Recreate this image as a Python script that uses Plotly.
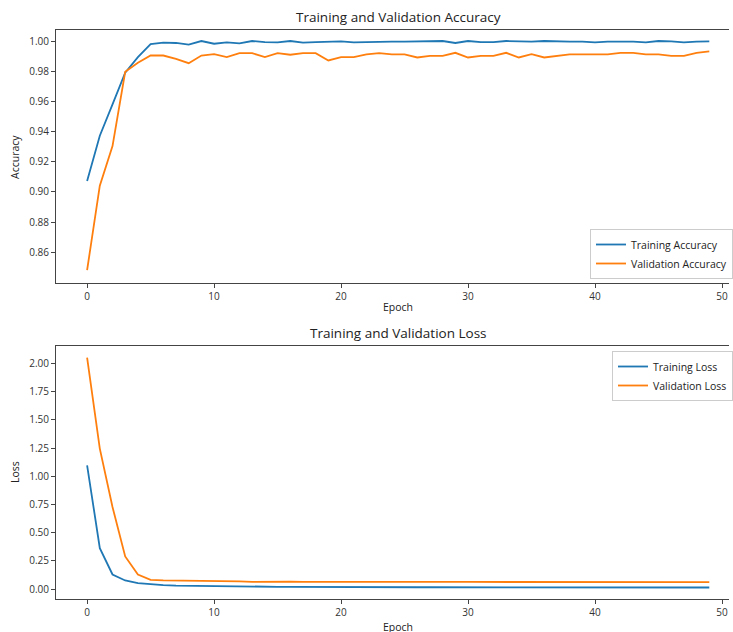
import plotly.graph_objects as go

epochs = list(range(50))

train_acc = [0.9073, 0.9373, 0.9580, 0.9790, 0.9893, 0.9980, 0.9989, 0.9987, 0.9976, 1.0000,
             0.9982, 0.9991, 0.9984, 1.0000, 0.9993, 0.9991, 1.0000, 0.9989, 0.9993, 0.9996,
             0.9998, 0.9991, 0.9993, 0.9998, 0.9996, 0.9996, 0.9996, 1.0000, 1.0000, 0.9987,
             1.0000, 0.9993, 0.9993, 1.0000, 0.9996, 0.9996, 1.0000, 0.9996, 0.9996, 0.9996,
             0.9991, 0.9996, 0.9996, 0.9996, 0.9991, 1.0000, 0.9998, 0.9991, 0.9996, 0.9998]

val_acc = [0.8482, 0.9042, 0.9304, 0.9796, 0.9856, 0.9904, 0.9904, 0.9882, 0.9853, 0.9904,
           0.9913, 0.9893, 0.9920, 0.9920, 0.9893, 0.9920, 0.9909, 0.9920, 0.9920, 0.9871,
           0.9893, 0.9893, 0.9911, 0.9920, 0.9911, 0.9911, 0.9891, 0.9902, 0.9902, 0.9922,
           0.9891, 0.9902, 0.9902, 0.9922, 0.9891, 0.9913, 0.9891, 0.9902, 0.9911, 0.9911,
           0.9911, 0.9911, 0.9922, 0.9922, 0.9911, 0.9911, 0.9902, 0.9902, 0.9922, 0.9931]

train_loss = [1.098, 0.364, 0.130, 0.077, 0.053, 0.042, 0.036, 0.032, 0.030, 0.027,
              0.026, 0.025, 0.024, 0.022, 0.022, 0.021, 0.021, 0.020, 0.020, 0.019,
              0.019, 0.019, 0.018, 0.018, 0.018, 0.017, 0.017, 0.017, 0.017, 0.017,
              0.016, 0.016, 0.016, 0.016, 0.016, 0.016, 0.016, 0.016, 0.016, 0.016,
              0.015, 0.015, 0.015, 0.015, 0.015, 0.015, 0.015, 0.015, 0.015, 0.015]

val_loss = [2.053, 1.246, 0.728, 0.290, 0.130, 0.083, 0.078, 0.077, 0.076, 0.073,
            0.071, 0.071, 0.069, 0.064, 0.066, 0.066, 0.066, 0.065, 0.066, 0.065,
            0.065, 0.065, 0.065, 0.064, 0.065, 0.065, 0.066, 0.067, 0.065, 0.065,
            0.064, 0.064, 0.064, 0.064, 0.064, 0.064, 0.064, 0.063, 0.063, 0.063,
            0.063, 0.063, 0.063, 0.063, 0.063, 0.063, 0.062, 0.062, 0.062, 0.062]

acc_ticks = [0.86, 0.88, 0.90, 0.92, 0.94, 0.96, 0.98, 1.00]
loss_ticks = [0.0, 0.25, 0.5, 0.75, 1.0, 1.25, 1.5, 1.75, 2.0]
epoch_ticks = [0, 10, 20, 30, 40, 50]

BLUE = "#1f77b4"
ORANGE = "#ff7f0e"
FONT = "Open Sans"
W, H = 733, 632

fig = go.Figure()
fig.add_trace(go.Scatter(x=epochs, y=train_acc, mode="lines", name="Training Accuracy",
                         line=dict(color=BLUE, width=1.8), xaxis="x", yaxis="y", legend="legend"))
fig.add_trace(go.Scatter(x=epochs, y=val_acc, mode="lines", name="Validation Accuracy",
                         line=dict(color=ORANGE, width=1.8), xaxis="x", yaxis="y", legend="legend"))
fig.add_trace(go.Scatter(x=epochs, y=train_loss, mode="lines", name="Training Loss",
                         line=dict(color=BLUE, width=1.8), xaxis="x2", yaxis="y2", legend="legend2"))
fig.add_trace(go.Scatter(x=epochs, y=val_loss, mode="lines", name="Validation Loss",
                         line=dict(color=ORANGE, width=1.8), xaxis="x2", yaxis="y2", legend="legend2"))

xright = 0.995
xdom = [56 / W, xright]
xr = [-2.45, (xright * W - 87) / 12.7]
axcommon = dict(showline=True, linecolor="#444", linewidth=1, ticks="outside", ticklen=4,
                tickcolor="#444", tickfont=dict(family=FONT, size=10, color="#333"),
                showgrid=False, zeroline=False, automargin=False, showspikes=False)

legcommon = dict(bgcolor="rgba(255,255,255,0.85)", bordercolor="#ccc", borderwidth=1,
                 font=dict(family=FONT, size=10.5, color="#222"), itemwidth=30,
                 tracegroupgap=0)

fig.update_layout(
    width=W, height=H,
    margin=dict(l=0, r=0, t=0, b=0, autoexpand=False),
    paper_bgcolor="white", plot_bgcolor="white",
    hovermode=False,
    font=dict(family=FONT, size=10, color="#333"),
    xaxis=dict(domain=xdom, range=xr, tickvals=epoch_ticks, anchor="y", mirror=True, **axcommon),
    yaxis=dict(domain=[1 - 283 / H, 1 - 30 / H], range=[0.8397, 1.0073], tickvals=acc_ticks,
               tickformat=".2f", anchor="x", **axcommon),
    xaxis2=dict(domain=xdom, range=xr, tickvals=epoch_ticks, anchor="y2", mirror=True, **axcommon),
    yaxis2=dict(domain=[1 - 599 / H, 1 - 346 / H], range=[-0.087, 2.155], tickvals=loss_ticks,
                tickformat=".2f", anchor="x2", **axcommon),
    legend=dict(x=1.0, xanchor="right", y=1 - 279 / H, yanchor="bottom", **legcommon),
    legend2=dict(x=1.0, xanchor="right", y=1 - 351 / H, yanchor="top", **legcommon),
    showlegend=True,
)

cx = (56 + 740) / 2 / W
annos = [
    dict(text="Training and Validation Accuracy", x=cx, y=1 - 17 / H, size=13.5),
    dict(text="Training and Validation Loss", x=cx, y=1 - 333 / H, size=13.5),
    dict(text="Epoch", x=cx, y=1 - 307 / H, size=10.5),
    dict(text="Epoch", x=cx, y=1 - 627 / H, size=10.5),
]
for a in annos:
    fig.add_annotation(text=a["text"], x=a["x"], y=a["y"], xref="paper", yref="paper",
                       xanchor="center", yanchor="middle", showarrow=False,
                       font=dict(family=FONT, size=a["size"], color="#222"))
fig.add_annotation(text="Accuracy", x=15 / W, y=1 - 157 / H, xref="paper", yref="paper",
                   textangle=-90, showarrow=False, xanchor="center", yanchor="middle",
                   font=dict(family=FONT, size=10.5, color="#222"))
fig.add_annotation(text="Loss", x=15 / W, y=1 - 472 / H, xref="paper", yref="paper",
                   textangle=-90, showarrow=False, xanchor="center", yanchor="middle",
                   font=dict(family=FONT, size=10.5, color="#222"))

fig.write_html("out.html", config={"displayModeBar": False},
               post_script="document.body.style.margin='0';document.body.style.overflow='hidden';")
